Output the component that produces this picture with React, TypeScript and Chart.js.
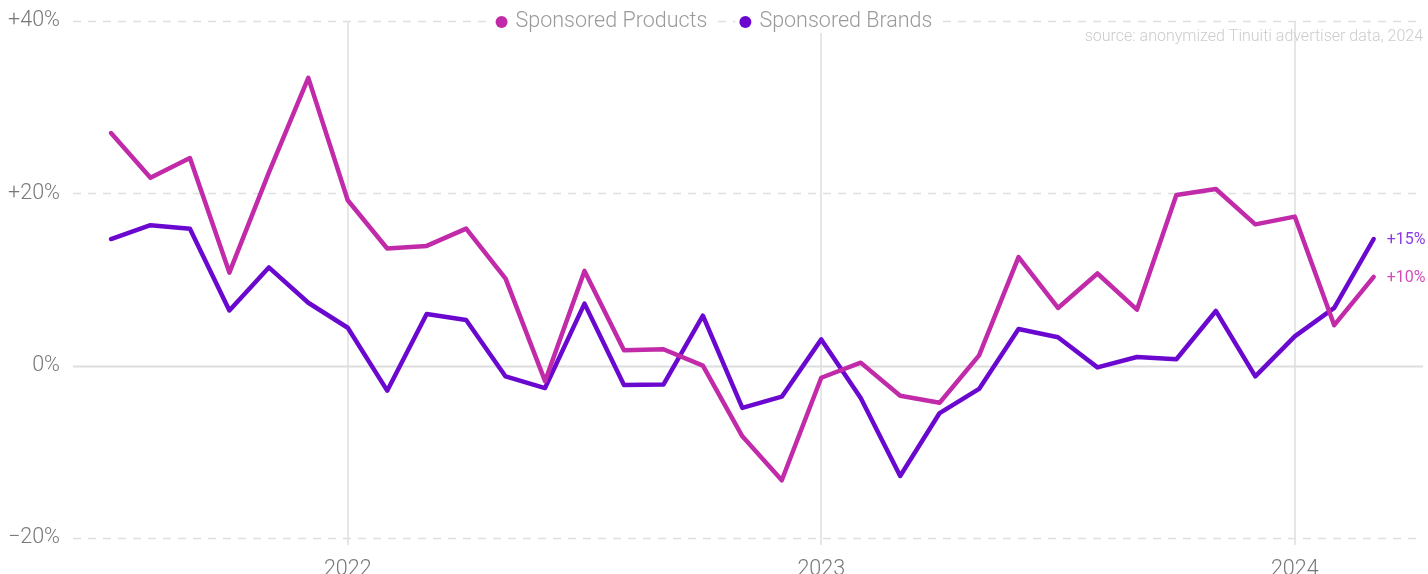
import React, { useEffect, useRef } from "react";
import { Chart, registerables } from "chart.js";

Chart.register(...registerables);

const months = [
  "Jul 2021", "Aug 2021", "Sep 2021", "Oct 2021", "Nov 2021", "Dec 2021",
  "Jan 2022", "Feb 2022", "Mar 2022", "Apr 2022", "May 2022", "Jun 2022",
  "Jul 2022", "Aug 2022", "Sep 2022", "Oct 2022", "Nov 2022", "Dec 2022",
  "Jan 2023", "Feb 2023", "Mar 2023", "Apr 2023", "May 2023", "Jun 2023",
  "Jul 2023", "Aug 2023", "Sep 2023", "Oct 2023", "Nov 2023", "Dec 2023",
  "Jan 2024", "Feb 2024", "Mar 2024",
];

const sponsoredProducts = [
  27.0, 21.8, 24.1, 10.8, 22.4, 33.4, 19.2, 13.6, 13.9, 15.9, 10.1, -1.8,
  11.0, 1.8, 1.9, 0.0, -8.2, -13.3, -1.4, 0.35, -3.5, -4.3, 1.2, 12.6,
  6.7, 10.7, 6.5, 19.8, 20.5, 16.4, 17.3, 4.7, 10.3,
];

const sponsoredBrands = [
  14.7, 16.3, 15.9, 6.4, 11.4, 7.3, 4.4, -2.9, 6.0, 5.3, -1.25, -2.6,
  7.2, -2.25, -2.2, 5.8, -4.9, -3.6, 3.05, -3.75, -12.8, -5.5, -2.7, 4.25,
  3.3, -0.2, 1.0, 0.75, 6.35, -1.25, 3.4, 6.7, 14.7,
];

const yTickValues = [-20, 0, 20, 40];
const yTickLabels = ["\u221220%", "0%", "+20%", "+40%"];
const seriesNames = ["Sponsored Products", "Sponsored Brands"];
const seriesColors = ["#c12aa8", "#6a08d0"];
const endLabelColors = ["#d44cbc", "#8a3ae6"];
const sourceText = "source: anonymized Tinuiti advertiser data, 2024";

const FONT = "Roboto, 'Noto Sans', sans-serif";

export default function App() {
  const canvasRef = useRef<HTMLCanvasElement | null>(null);

  useEffect(() => {
    document.body.style.margin = "0";
    const canvas = canvasRef.current;
    if (!canvas) return;

    const yearTicks = months
      .map((m, i) => ({ m, i }))
      .filter((o) => o.m.startsWith("Jan"))
      .map((o) => ({ value: o.i, label: o.m.split(" ")[1] }));

    const hGridPlugin = {
      id: "hgrid",
      beforeDatasetsDraw(chart: any) {
        const { ctx, chartArea, scales } = chart;
        const ys = scales.y;
        ctx.save();
        yTickValues.forEach((v) => {
          const y = Math.round(ys.getPixelForValue(v)) + 0.5;
          ctx.beginPath();
          if (v === 0) {
            ctx.setLineDash([]);
            ctx.lineWidth = 2;
            ctx.strokeStyle = "#dddddd";
          } else {
            ctx.setLineDash([8, 7]);
            ctx.lineWidth = 1.5;
            ctx.strokeStyle = "#e0e0e0";
          }
          ctx.moveTo(chartArea.left, y);
          ctx.lineTo(chartArea.right, y);
          ctx.stroke();
        });
        ctx.restore();
      },
    };

    const overlayPlugin = {
      id: "overlay",
      afterDraw(chart: any) {
        const { ctx, chartArea, width } = chart;
        ctx.save();
        // legend
        ctx.font = `300 21.5px ${FONT}`;
        const dotR = 6;
        const dotGap = 8;
        const itemGap = 32;
        const widths = seriesNames.map((n) => dotR * 2 + dotGap + ctx.measureText(n).width);
        const total = widths.reduce((a, b) => a + b, 0) + itemGap * (seriesNames.length - 1);
        let x = width / 2 - total / 2;
        const ly = chartArea.top;
        seriesNames.forEach((n, i) => {
          ctx.fillStyle = "#ffffff";
          ctx.fillRect(x - 4, ly - 12, widths[i] + 8, 24);
          ctx.beginPath();
          ctx.fillStyle = seriesColors[i];
          ctx.arc(x + dotR, ly + 1, dotR, 0, Math.PI * 2);
          ctx.fill();
          ctx.fillStyle = "#9a9a9a";
          ctx.textAlign = "left";
          ctx.textBaseline = "middle";
          ctx.fillText(n, x + dotR * 2 + dotGap, ly + 1);
          x += widths[i] + itemGap;
        });
        // source
        ctx.font = `300 16px ${FONT}`;
        ctx.fillStyle = "#cccccc";
        ctx.textAlign = "right";
        ctx.textBaseline = "middle";
        ctx.fillText(sourceText, chartArea.right, chartArea.top + 16);
        // end labels
        ctx.font = `400 16px ${FONT}`;
        ctx.textAlign = "left";
        chart.data.datasets.forEach((ds: any, i: number) => {
          const meta = chart.getDatasetMeta(i);
          const pt = meta.data[meta.data.length - 1];
          const v = ds.data[ds.data.length - 1].y;
          const txt = (v >= 0 ? "+" : "\u2212") + Math.abs(Math.round(v)) + "%";
          ctx.fillStyle = endLabelColors[i];
          ctx.fillText(txt, pt.x + 13, pt.y + 1);
        });
        ctx.restore();
      },
    };

    const chart = new Chart(canvas, {
      type: "line",
      data: {
        datasets: [sponsoredProducts, sponsoredBrands].map((vals, i) => ({
          label: seriesNames[i],
          data: vals.map((v, j) => ({ x: j, y: v })),
          borderColor: seriesColors[i],
          backgroundColor: seriesColors[i],
          borderWidth: 4.5,
          pointRadius: 0,
          pointHoverRadius: 0,
          tension: 0,
          fill: false,
          borderJoinStyle: "round" as const,
          borderCapStyle: "round" as const,
        })),
      },
      options: {
        responsive: false,
        animation: false,
        layout: { padding: { top: 21, right: 5, left: 0, bottom: 0 } },
        plugins: {
          legend: { display: false },
          tooltip: { enabled: false },
        },
        scales: {
          x: {
            type: "linear",
            min: -0.963,
            max: 33.25,
            afterBuildTicks(scale: any) {
              scale.ticks = yearTicks.map((t) => ({ value: t.value }));
            },
            afterFit(scale: any) {
              scale.height = 36;
              scale.paddingLeft = 0;
              scale.paddingRight = 0;
            },
            ticks: {
              callback: (val: any) => {
                const t = yearTicks.find((o) => o.value === val);
                return t ? t.label : "";
              },
              font: { family: FONT, size: 21.5, weight: "300" as any },
              color: "#777777",
              padding: 12,
              maxRotation: 0,
            },
            grid: {
              color: "#e6e6e6",
              lineWidth: 2,
              drawTicks: true,
              tickLength: 7,
            },
            border: { display: false },
          },
          y: {
            type: "linear",
            min: -20,
            max: 40,
            afterBuildTicks(scale: any) {
              scale.ticks = yTickValues.map((v) => ({ value: v }));
            },
            afterFit(scale: any) {
              scale.width = 73;
              scale.paddingTop = 0;
              scale.paddingBottom = 0;
            },
            ticks: {
              callback: (val: any) => {
                const idx = yTickValues.indexOf(val);
                return idx >= 0 ? yTickLabels[idx] : "";
              },
              font: { family: FONT, size: 21.5, weight: "300" as any },
              color: "#777777",
              padding: 13,
            },
            grid: { display: false, drawTicks: false },
            border: { display: false },
          },
        },
      },
      plugins: [hGridPlugin, overlayPlugin],
    } as any);

    return () => chart.destroy();
  }, []);

  return (
    <div style={{ width: 1428, height: 574 }}>
      <canvas ref={canvasRef} width={1428} height={574} style={{ display: "block" }} />
    </div>
  );
}
